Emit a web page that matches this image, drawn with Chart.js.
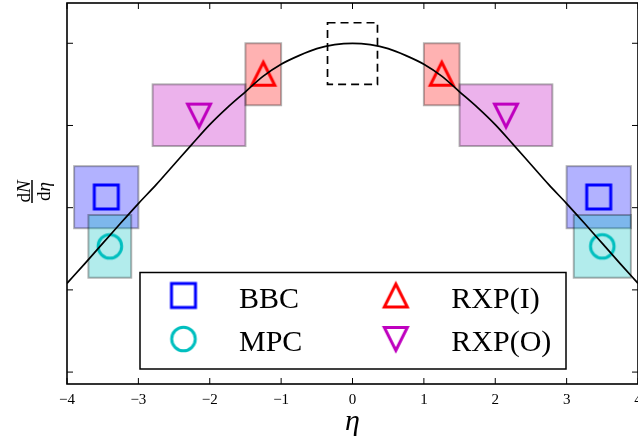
<!DOCTYPE html>
<html>
<head>
<meta charset="utf-8">
<script src="https://cdn.jsdelivr.net/npm/chart.js@4"></script>
<style>
  body { margin: 0; background: #fff; }
  #wrap { width: 638px; height: 447px; }
</style>
</head>
<body>
<div id="wrap"><canvas id="c" width="638" height="447"></canvas></div>
<script>
// dN/deta curve
const curveEta = [-4, -3.75, -3.5, -3.25, -3, -2.75, -2.5, -2.25, -2, -1.75, -1.5, -1.25, -1, -0.75, -0.5, -0.25,
  0, 0.25, 0.5, 0.75, 1, 1.25, 1.5, 1.75, 2, 2.25, 2.5, 2.75, 3, 3.25, 3.5, 3.75, 4];
const curveVal = [1.08, 1.32, 1.565, 1.81, 2.05, 2.28, 2.525, 2.77, 3.01, 3.22, 3.41, 3.60, 3.745, 3.85, 3.935, 3.983,
  4.0, 3.983, 3.935, 3.85, 3.745, 3.60, 3.41, 3.22, 3.01, 2.77, 2.525, 2.28, 2.05, 1.81, 1.565, 1.32, 1.08];

// detector markers
const labels = ["BBC", "MPC", "RXP(I)", "RXP(O)"];
const bbcEta = [-3.45, 3.45];
const bbcVal = [2.13, 2.13];
const mpcEta = [-3.4, 3.5];
const mpcVal = [1.53, 1.53];
const rxpiEta = [-1.25, 1.25];
const rxpiVal = [3.63, 3.63];
const rxpoEta = [-2.15, 2.15];
const rxpoVal = [3.12, 3.12];

// acceptance boxes: eta ranges and dN/deta band
const bbcRange = [[-3.9, -3.0], [3.0, 3.9]];
const bbcBand = [1.75, 2.505];
const mpcRange = [[-3.7, -3.1], [3.1, 3.9]];
const mpcBand = [1.148, 1.911];
const rxpiRange = [[-1.5, -1.0], [1.0, 1.5]];
const rxpiBand = [3.246, 4.0];
const rxpoRange = [[-2.8, -1.5], [1.5, 2.8]];
const rxpoBand = [2.75, 3.5];
const centralRange = [-0.35, 0.35];
const centralBand = [3.5, 4.25];

const xTicks = [-4, -3, -2, -1, 0, 1, 2, 3, 4];
const yTicks = [0, 1, 2, 3, 4];

const SERIF = '"Liberation Serif", "DejaVu Serif", serif';

function markerCanvas(kind, color) {
  const c = document.createElement("canvas");
  c.width = 34; c.height = 34;
  const g = c.getContext("2d");
  g.strokeStyle = color;
  g.lineWidth = 3;
  g.lineJoin = "miter";
  const m = 17;
  g.beginPath();
  if (kind === "square") {
    g.rect(m - 12, m - 12, 24, 24);
  } else if (kind === "circle") {
    g.arc(m, m, 11.8, 0, Math.PI * 2);
  } else if (kind === "up") {
    g.moveTo(m, m - 11.5); g.lineTo(m + 11.5, m + 11.5); g.lineTo(m - 11.5, m + 11.5); g.closePath();
  } else {
    g.moveTo(m, m + 11.5); g.lineTo(m + 11.5, m - 11.5); g.lineTo(m - 11.5, m - 11.5); g.closePath();
  }
  g.stroke();
  return c;
}

const pts = (xs, ys) => xs.map((x, i) => ({ x, y: ys[i] }));

const markers = [
  markerCanvas("square", "#0000ff"),
  markerCanvas("circle", "#00bfbf"),
  markerCanvas("up", "#ff0000"),
  markerCanvas("down", "#bf00bf")
];

const boxes = [
  { ranges: bbcRange, band: bbcBand, fill: "rgba(0,0,255,0.3)" },
  { ranges: mpcRange, band: mpcBand, fill: "rgba(0,191,191,0.3)" },
  { ranges: rxpiRange, band: rxpiBand, fill: "rgba(255,0,0,0.3)" },
  { ranges: rxpoRange, band: rxpoBand, fill: "rgba(191,0,191,0.3)" }
];

// draws a mixed upright/italic string centred on cx
function mixedText(ctx, parts, cx, cy, size) {
  let w = 0;
  parts.forEach(p => { ctx.font = (p[1] ? "italic " : "") + size + "px " + SERIF; w += ctx.measureText(p[0]).width; });
  let xx = cx - w / 2;
  ctx.textAlign = "left";
  parts.forEach(p => {
    ctx.font = (p[1] ? "italic " : "") + size + "px " + SERIF;
    ctx.fillText(p[0], xx, cy);
    xx += ctx.measureText(p[0]).width;
  });
}

const decor = {
  id: "decor",
  beforeDatasetsDraw(chart) {
    const { ctx, scales: { x, y } } = chart;
    ctx.save();
    boxes.forEach(b => {
      b.ranges.forEach(r => {
        const x0 = x.getPixelForValue(r[0]), x1 = x.getPixelForValue(r[1]);
        const y0 = y.getPixelForValue(b.band[1]), y1 = y.getPixelForValue(b.band[0]);
        ctx.fillStyle = b.fill;
        ctx.fillRect(x0, y0, x1 - x0, y1 - y0);
        ctx.strokeStyle = "rgba(0,0,0,0.3)";
        ctx.lineWidth = 2;
        ctx.strokeRect(x0, y0, x1 - x0, y1 - y0);
      });
    });
    // central dashed box
    const cx0 = x.getPixelForValue(centralRange[0]), cx1 = x.getPixelForValue(centralRange[1]);
    const cy0 = y.getPixelForValue(centralBand[1]), cy1 = y.getPixelForValue(centralBand[0]);
    ctx.setLineDash([8, 5]);
    ctx.strokeStyle = "#000";
    ctx.lineWidth = 1.7;
    ctx.strokeRect(cx0, cy0, cx1 - cx0, cy1 - cy0);
    ctx.restore();
  },
  afterDatasetsDraw(chart) {
    const { ctx, chartArea: a, scales: { x, y } } = chart;
    ctx.save();
    // frame
    ctx.strokeStyle = "#000";
    ctx.lineWidth = 1.6;
    ctx.strokeRect(a.left, a.top, a.right - a.left, a.bottom - a.top);
    // inward ticks
    ctx.lineWidth = 1;
    ctx.beginPath();
    xTicks.forEach(t => {
      const px = x.getPixelForValue(t);
      ctx.moveTo(px, a.bottom); ctx.lineTo(px, a.bottom - 6);
      ctx.moveTo(px, a.top); ctx.lineTo(px, a.top + 6);
    });
    yTicks.forEach(t => {
      const py = y.getPixelForValue(t);
      ctx.moveTo(a.left, py); ctx.lineTo(a.left + 6, py);
      ctx.moveTo(a.right, py); ctx.lineTo(a.right - 6, py);
    });
    ctx.stroke();
    // tick labels
    ctx.fillStyle = "#000";
    ctx.font = "15px " + SERIF;
    ctx.textAlign = "center";
    ctx.textBaseline = "alphabetic";
    xTicks.forEach(t => {
      const s = t < 0 ? "\u2212" + Math.abs(t) : String(t);
      ctx.fillText(s, x.getPixelForValue(t), a.bottom + 19.5);
    });
    // x title
    ctx.font = "italic 30px " + SERIF;
    ctx.fillText("\u03B7", (a.left + a.right) / 2, 430);
    // y title (fraction, rotated)
    ctx.save();
    ctx.translate(32, 191.5);
    ctx.rotate(-Math.PI / 2);
    mixedText(ctx, [["d", false], ["N", true]], 0, -2.5, 19);
    mixedText(ctx, [["d", false], ["\u03B7", true]], 0, 17.5, 19);
    ctx.lineWidth = 1.5;
    ctx.beginPath();
    ctx.moveTo(-11.5, 0); ctx.lineTo(11.5, 0);
    ctx.stroke();
    ctx.restore();
    // legend
    const lx = 140, ly = 272.5, lw = 426, lh = 96.5;
    ctx.fillStyle = "#fff";
    ctx.fillRect(lx, ly, lw, lh);
    ctx.strokeStyle = "#000";
    ctx.lineWidth = 1.5;
    ctx.strokeRect(lx, ly, lw, lh);
    ctx.font = "30px " + SERIF;
    ctx.textAlign = "left";
    ctx.fillStyle = "#000";
    chart.data.datasets.slice(1).forEach((ds, i) => {
      const col = Math.floor(i / 2), row = i % 2;
      const mx = 183.5 + col * 212.3;
      const my = 295.5 + row * 43.5;
      const img = ds.pointStyle;
      ctx.drawImage(img, mx - img.width / 2, my - img.height / 2);
      ctx.fillText(ds.label, 239 + col * 212.3, 307.5 + row * 43);
    });
    ctx.restore();
  }
};

new Chart(document.getElementById("c"), {
  type: "scatter",
  data: {
    datasets: [
      { type: "line", label: "curve", data: pts(curveEta, curveVal), borderColor: "#000", borderWidth: 1.7,
        pointRadius: 0, fill: false, cubicInterpolationMode: "monotone" },
      { label: labels[0], data: pts(bbcEta, bbcVal), pointStyle: markers[0] },
      { label: labels[1], data: pts(mpcEta, mpcVal), pointStyle: markers[1] },
      { label: labels[2], data: pts(rxpiEta, rxpiVal), pointStyle: markers[2] },
      { label: labels[3], data: pts(rxpoEta, rxpoVal), pointStyle: markers[3] }
    ]
  },
  options: {
    responsive: false,
    animation: false,
    devicePixelRatio: 1,
    layout: { autoPadding: false, padding: { top: 3, right: 0, bottom: 0, left: 0 } },
    plugins: { legend: { display: false }, tooltip: { enabled: false } },
    scales: {
      x: {
        type: "linear", min: -4, max: 4,
        grid: { display: false }, border: { display: false },
        ticks: { display: false },
        afterFit(s) { s.height = 63; }
      },
      y: {
        type: "linear", min: -0.145, max: 4.49,
        grid: { display: false }, border: { display: false },
        ticks: { display: false },
        afterFit(s) { s.width = 67; }
      }
    }
  },
  plugins: [decor]
});
</script>
</body>
</html>
